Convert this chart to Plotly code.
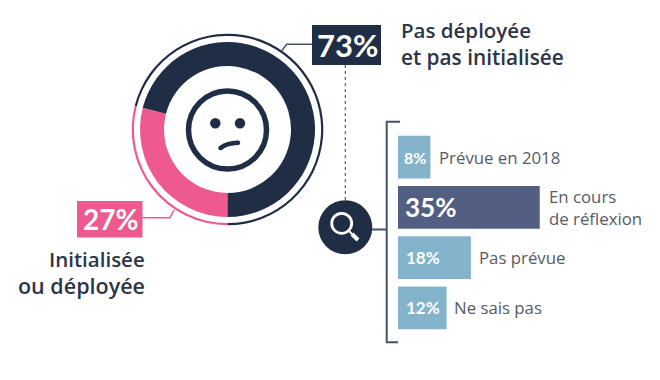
import plotly.graph_objects as go

# Shares as printed on the chart
share_labels = ["73%", "27%"]
share_titles = ["Pas déployée", "et pas initialisée", "Initialisée", "ou déployée"]
# Arc sizes as measured on the reference ring (the drawn pink arc is a little larger than its 27% label)
ring_names = ["Initialisée ou déployée", "Pas déployée et pas initialisée"]
ring_arc = [29, 71]

# Breakdown bars
bar_categories = ["Prévue en 2018", "En cours<br>de réflexion", "Pas prévue", "Ne sais pas"]
bar_values = [8, 35, 18, 12]
bar_colors = ["#84b4cb", "#535f82", "#84b4cb", "#84b4cb"]

NAVY = "#202e45"
PINK = "#ee5a8f"
SLATE = "#46526b"
W, H = 660, 380
FONT = "Lato"
LABEL_FONT = "Open Sans"


def px(x):
    return x / W


def py(y):
    return 1 - y / H


def ring_domain(cx, cy, r):
    return dict(x=[px(cx - r), px(cx + r)], y=[py(cy + r), py(cy - r)])


def poly(points, color, width, dash="solid"):
    d = "M " + " L ".join(f"{px(x):.5f},{py(y):.5f}" for x, y in points)
    return dict(type="path", xref="paper", yref="paper", path=d,
                line=dict(color=color, width=width, dash=dash))


def circle(cx, cy, r, fill=None, line=None, width=0):
    return dict(type="circle", xref="paper", yref="paper",
                x0=px(cx - r), x1=px(cx + r), y0=py(cy + r), y1=py(cy - r),
                fillcolor=fill or "rgba(0,0,0,0)",
                line=dict(color=line or "rgba(0,0,0,0)", width=width))


def box(x0, y0, x1, y1, fill):
    return dict(type="rect", xref="paper", yref="paper",
                x0=px(x0), x1=px(x1), y0=py(y1), y1=py(y0),
                fillcolor=fill, line=dict(width=0), layer="below")


def pct(x, y, s, size):
    return dict(xref="paper", yref="paper", x=px(x), y=py(y), text=f"<b>{s}</b>",
                showarrow=False, xanchor="center", yanchor="middle",
                font=dict(family=FONT, size=size, color="#ffffff"))


def title(x, y, s, anchor, size):
    return dict(xref="paper", yref="paper", x=px(x), y=py(y), text=s,
                showarrow=False, xanchor=anchor, yanchor="middle", align=anchor,
                font=dict(family=LABEL_FONT, size=size, color="#2c3547", weight=600))


fig = go.Figure()
for r, hole, in [(95.8, 93.6 / 95.8), (87.5, 63.5 / 87.5)]:
    fig.add_trace(go.Pie(labels=ring_names, values=ring_arc, sort=False, direction="clockwise",
                         rotation=180, hole=hole, domain=ring_domain(227.5, 129.5, r),
                         marker=dict(colors=[PINK, NAVY], line=dict(width=0)),
                         textinfo="none", showlegend=False, hoverinfo="label"))

SCALE = 4.05  # px per percentage point
fig.add_trace(go.Bar(y=bar_categories, x=bar_values, orientation="h",
                     marker=dict(color=bar_colors, line=dict(width=0)),
                     showlegend=False, hoverinfo="y+x"))

shapes = [
    circle(227.5, 130, 39, line=NAVY, width=5.5),
    circle(215.3, 123.3, 5.2, fill=NAVY),
    circle(240, 123.3, 5.2, fill=NAVY),
    dict(type="path", xref="paper", yref="paper",
         path=f"M {px(220.5):.5f},{py(148):.5f} Q {px(227):.5f},{py(143):.5f} {px(238):.5f},{py(142.7):.5f}",
         line=dict(color=NAVY, width=4.5)),
    circle(220.5, 148, 2.25, fill=NAVY),
    circle(238, 142.7, 2.25, fill=NAVY),
    box(312, 25, 381, 65, NAVY),
    box(77, 201, 142.5, 237.5, PINK),
    poly([(281.7, 50.7), (286.7, 44.3), (312, 44.3)], SLATE, 1.5),
    poly([(142.3, 217.7), (170, 217.7), (174, 210)], PINK, 1.5),
    poly([(345.3, 65), (345.3, 200)], SLATE, 1.1, "dot"),
    circle(345.3, 227.3, 27, fill=NAVY),
    circle(341.7, 223.3, 10, line="#ffffff", width=2.8),
    poly([(349, 231), (352, 234)], "#ffffff", 2),
    poly([(352, 234), (358, 240)], "#ffffff", 4),
    poly([(372, 229.5), (386.7, 229.5)], SLATE, 2),
    poly([(400, 121.7), (386.7, 121.7), (386.7, 342.3), (398, 342.3)], SLATE, 2),
]

annotations = [
    pct(347, 45, share_labels[0], 31),
    pct(110, 219, share_labels[1], 28),
    title(399, 30, share_titles[0], "left", 20.5),
    title(399, 57, share_titles[1], "left", 20.8),
    title(147, 259, share_titles[2], "right", 20.5),
    title(147, 285, share_titles[3], "right", 21.5),
]

value_center = [17, 32, 25, 25]
value_size = [16, 26, 17, 17]
name_gap = [8, 8, 7, 6]
for cat, val, c, size, gap in zip(bar_categories, bar_values, value_center, value_size, name_gap):
    annotations.append(dict(xref="x", yref="y", x=0, y=cat, text=f"<b>{val}%</b>", showarrow=False,
                            xanchor="center", yanchor="middle", xshift=c,
                            font=dict(family=FONT, size=size, color="#ffffff")))
    annotations.append(dict(xref="x", yref="y", x=val, y=cat, text=cat, showarrow=False,
                            xanchor="left", yanchor="middle", align="left", xshift=gap - 1,
                            font=dict(family=LABEL_FONT, size=16.8, color="#555b66")))

fig.update_layout(
    width=W, height=H, margin=dict(l=0, r=0, t=0, b=0),
    paper_bgcolor="#ffffff", plot_bgcolor="rgba(0,0,0,0)",
    font=dict(family=FONT),
    xaxis=dict(visible=False, domain=[px(398), 1], range=[0, (W - 398) / SCALE], fixedrange=True),
    yaxis=dict(visible=False, domain=[py(333.1), py(131.9)], autorange="reversed", fixedrange=True),
    bargap=0.15, shapes=shapes, annotations=annotations,
)

fig.write_html("out.html", post_script="document.body.style.margin='0';",
               config=dict(displayModeBar=False))
